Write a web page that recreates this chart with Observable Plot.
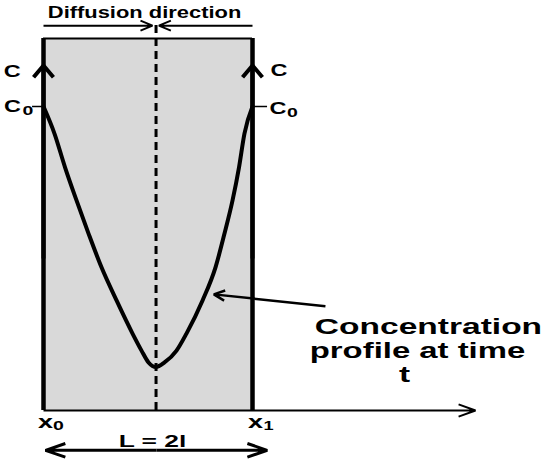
<!DOCTYPE html>
<html><head><meta charset="utf-8">
<script src="https://cdn.jsdelivr.net/npm/d3@7"></script>
<script src="https://cdn.jsdelivr.net/npm/@observablehq/plot@0.6"></script>
<style>html,body{margin:0;padding:0;background:#fff} svg{display:block}</style>
</head><body><div id="chart"></div>
<script>
// ---- data (x in units of l: x0 = 0, x1 = 2l; C in units of C0) ----
const profileX = [0, 0.105, 0.206, 0.316, 0.431, 0.555, 0.699, 0.852, 0.938, 1.005, 1.077, 1.158, 1.273, 1.368, 1.522, 1.646, 1.732, 1.809, 1.871, 1.923, 2.0];
const profileC = [1.0, 0.911, 0.800, 0.691, 0.582, 0.471, 0.362, 0.253, 0.197, 0.158, 0.143, 0.158, 0.197, 0.253, 0.362, 0.471, 0.582, 0.691, 0.800, 0.911, 1.0];
const boundaryX = [0, 2];            // x0, x1
const boundaryNames = ["x", "x"];
const boundarySubs = ["0", "1"];
const midX = 1.077;                  // dashed line / profile minimum
const C0 = 1;
const boxTop = 1.224;
const axisEnd = 4.134;
const titleText = "Diffusion direction";
const lengthText = "L = 2l";
const axisName = "C";
const levelName = "C";
const levelSub = "0";
const noteLines = ["Concentration", "profile at time", "t"];

// ---- layout ----
const FONT = "'Liberation Sans', Arial, sans-serif";
const k = 104.5, c = 304;
const xDomain = [-43 / k, (550 - 43) / k];
const yDomain = [-(463 - 410) / c, 410 / c];
const profile = profileX.map((x, i) => ({x, C: profileC[i]}));

function txt(label, x, y, size) {
  return Plot.text([{x, y, t: label}], {
    x: "x", y: "y", text: "t", fontFamily: FONT, fontWeight: "bold",
    fontSize: size, fill: "black", textAnchor: "middle"
  });
}
function arrow(x1, y1, x2, y2, sw, headLength, headAngle) {
  return Plot.arrow([{x1, y1, x2, y2}], {
    x1: "x1", y1: "y1", x2: "x2", y2: "y2", stroke: "black",
    strokeWidth: sw, headLength, headAngle, strokeLinecap: "butt"
  });
}

const chart = Plot.plot({
  width: 550, height: 463, margin: 0,
  style: {background: "white"},
  x: {domain: xDomain, axis: null},
  y: {domain: yDomain, axis: null},
  marks: [
    Plot.rect([{x1: boundaryX[0], x2: boundaryX[1], y1: 0, y2: boxTop}], {x1: "x1", x2: "x2", y1: "y1", y2: "y2", fill: "#d9d9d9"}),
    Plot.ruleY([boxTop], {x1: boundaryX[0], x2: boundaryX[1], stroke: "black", strokeWidth: 2}),
    Plot.ruleX([midX], {y1: 0, y2: 1.273, stroke: "black", strokeWidth: 3, strokeDasharray: "8,5"}),
    Plot.ruleX(boundaryX, {y1: 0, y2: boxTop, stroke: "black", strokeWidth: 4.5}),
    arrow(boundaryX[0], 0.5, boundaryX[0], 1.135, 4, 5.8, 80),
    arrow(boundaryX[1], 0.5, boundaryX[1], 1.135, 4, 5.8, 80),
    Plot.ruleY([C0], {x1: -0.105, x2: boundaryX[0], stroke: "black", strokeWidth: 1.5}),
    Plot.ruleY([C0], {x1: boundaryX[1], x2: 2.144, stroke: "black", strokeWidth: 1.5}),
    arrow(boundaryX[0], 0, axisEnd, 0, 2, 13.5, 40),
    arrow(boundaryX[0], 1.266, 1.043, 1.266, 2, 9.75, 45),
    arrow(boundaryX[1], 1.266, 1.104, 1.266, 2, 9.75, 45),
    arrow(1.081, -0.131, 0.019, -0.131, 3, 10.5, 38),
    arrow(1.081, -0.131, 2.141, -0.131, 3, 10.5, 38),
    Plot.line(profile, {x: "x", y: "C", curve: "monotone-x", stroke: "black", strokeWidth: 4}),
    arrow(2.698, 0.343, 1.630, 0.382, 2.5, 7.2, 50),
    txt(titleText, 0.967, 1.309, 16),
    txt(axisName, -0.30, 1.115, 17),
    txt(axisName, 2.254, 1.117, 17),
    txt(levelName, -0.297, 1.0, 17),
    txt(levelSub, -0.148, 0.985, 13),
    txt(levelName, 2.244, 0.993, 17),
    txt(levelSub, 2.383, 0.978, 13),
    txt(boundaryNames[0], 0.019, -0.038, 18),
    txt(boundarySubs[0], 0.144, -0.049, 13),
    txt(boundaryNames[1], 2.029, -0.038, 18),
    txt(boundarySubs[1], 2.153, -0.049, 13),
    txt(lengthText, 1.043, -0.102, 16),
    txt(noteLines[0], 3.684, 0.274, 21.5),
    txt(noteLines[1], 3.579, 0.195, 21.5),
    txt(noteLines[2], 3.455, 0.116, 21.5)
  ]
});
document.getElementById("chart").appendChild(chart);

// horizontally stretch the bold lettering as in the original
const stretch = new Map([
  [titleText, 1.37], [axisName, 1.38], [levelSub, 1.5], ["1", 1.4], ["x", 1.5],
  [lengthText, 1.65], [noteLines[0], 1.56], [noteLines[1], 1.53], [noteLines[2], 1.55]
]);
chart.querySelectorAll("text").forEach(el => {
  const s = stretch.get(el.textContent);
  if (!s) return;
  const tr = el.getAttribute("transform");
  if (tr) {
    el.setAttribute("transform", tr + ` scale(${s},1)`);
  } else {
    const x = +el.getAttribute("x") || 0, y = +el.getAttribute("y") || 0;
    el.setAttribute("transform", `translate(${x},${y}) scale(${s},1) translate(${-x},${-y})`);
  }
});
</script>
</body></html>
